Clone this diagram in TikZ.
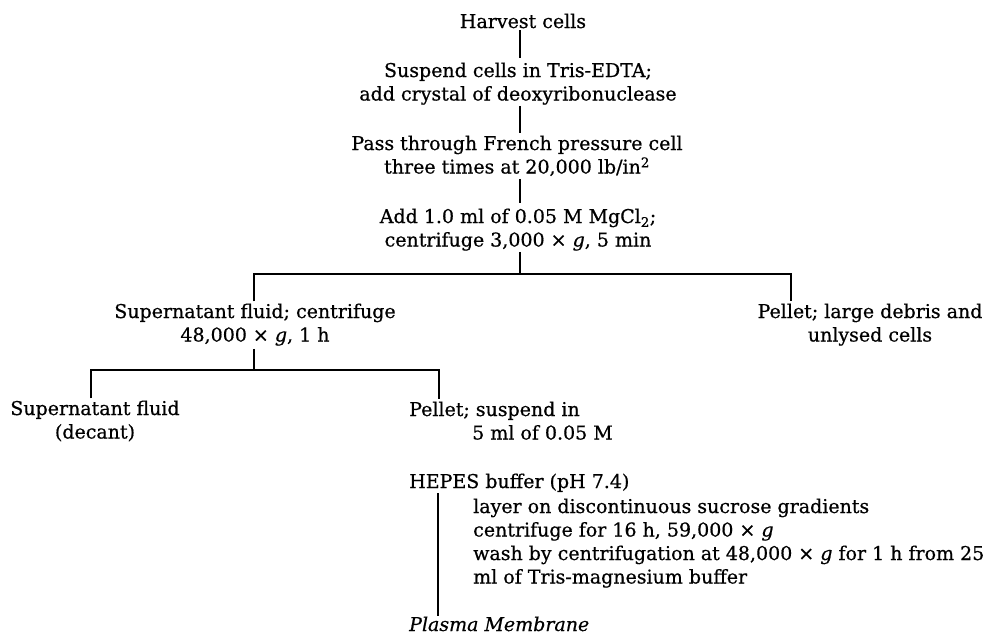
\documentclass[tikz,border=0pt]{standalone}
\usepackage{fontspec}
\setmainfont{DejaVu Serif}[FakeBold=0.6]
\newcommand\fs{\fontsize{19}{23.5}\selectfont}
\newcommand\cstack[1]{\begin{tabular}[t]{@{}c@{}}#1\end{tabular}}
\newcommand\lstack[1]{\begin{tabular}[t]{@{}l@{}}#1\end{tabular}}
\newcommand\tms{ × }
\tikzset{
  txt/.style={inner sep=0pt, anchor=base, font=\fs},
  ltxt/.style={txt, anchor=base west},
  link/.style={line width=1.6pt},
}
\begin{document}
\begin{tikzpicture}[x=1pt,y=-1pt]
\fill[white] (0,0) rectangle (983,635);
\useasboundingbox (0,0) rectangle (983,635);
\coordinate (sp) at (520,0);
\node[txt] (h) at (523,28) {\cstack{Harvest cells}};
\node[txt] (s) at (518,77) {\cstack{Suspend cells in Tris-EDTA;\\add crystal of deoxyribonuclease}};
\node[txt] (p) at (517,150) {\cstack{Pass through French pressure cell\\three times at 20,000 lb/in\textsuperscript{2}}};
\node[txt] (m) at (518,223) {\cstack{Add 1.0 ml of 0.05 M MgCl\textsubscript{2};\\centrifuge 3,000\tms\textit{g}, 5 min}};
\node[txt] (sup) at (255,318) {\cstack{Supernatant fluid; centrifuge\\48,000\tms\textit{g}, 1 h}};
\node[txt] (pel) at (870,318) {\cstack{Pellet; large debris and\\unlysed cells}};
\node[txt] (dec) at (95,415) {\cstack{Supernatant fluid\\(decant)}};
\node[ltxt] (ps) at (409,416) {\lstack{Pellet; suspend in\\\hspace*{63pt}5 ml of 0.05 M}};
\node[ltxt] (hep) at (409,488) {\lstack{HEPES buffer (pH 7.4)}};
\node[ltxt] (st) at (473,513) {\lstack{layer on discontinuous sucrose gradients\\centrifuge for 16 h, 59,000\tms\textit{g}\\wash by centrifugation at 48,000\tms\textit{g} for 1 h from 25\\ml of Tris-magnesium buffer}};
\node[ltxt] (pm) at (409,631) {\lstack{\textit{Plasma Membrane}}};
\coordinate (j1) at (520,274);
\coordinate (j1l) at (254,274);
\coordinate (j1r) at (791,274);
\coordinate (j2) at (254,370);
\coordinate (j2l) at (91,370);
\coordinate (j2r) at (439,370);
\coordinate (vx) at (438,0);
\draw[link, shorten <=-5pt, shorten >=2.5pt] (h.south -| sp) -- (s.north -| sp);
\draw[link, shorten <=-2pt, shorten >=0.5pt] (s.south -| sp) -- (p.north -| sp);
\draw[link, shorten <=-2pt, shorten >=3pt] (p.south -| sp) -- (m.north -| sp);
\draw[link, shorten <=-2pt] (m.south -| sp) -- (j1);
\draw[link] (sup.north -| j1l) -- (j1l) -- (j1r) -- (pel.north -| j1r);
\draw[link] (sup.south -| j2) -- (j2);
\draw[link] (dec.north -| j2l) -- (j2l) -- (j2r) -- (ps.north -| j2r);
\draw[link, shorten <=-2pt, shorten >=-2pt] (hep.south -| vx) -- (pm.north -| vx);
\end{tikzpicture}
\end{document}
